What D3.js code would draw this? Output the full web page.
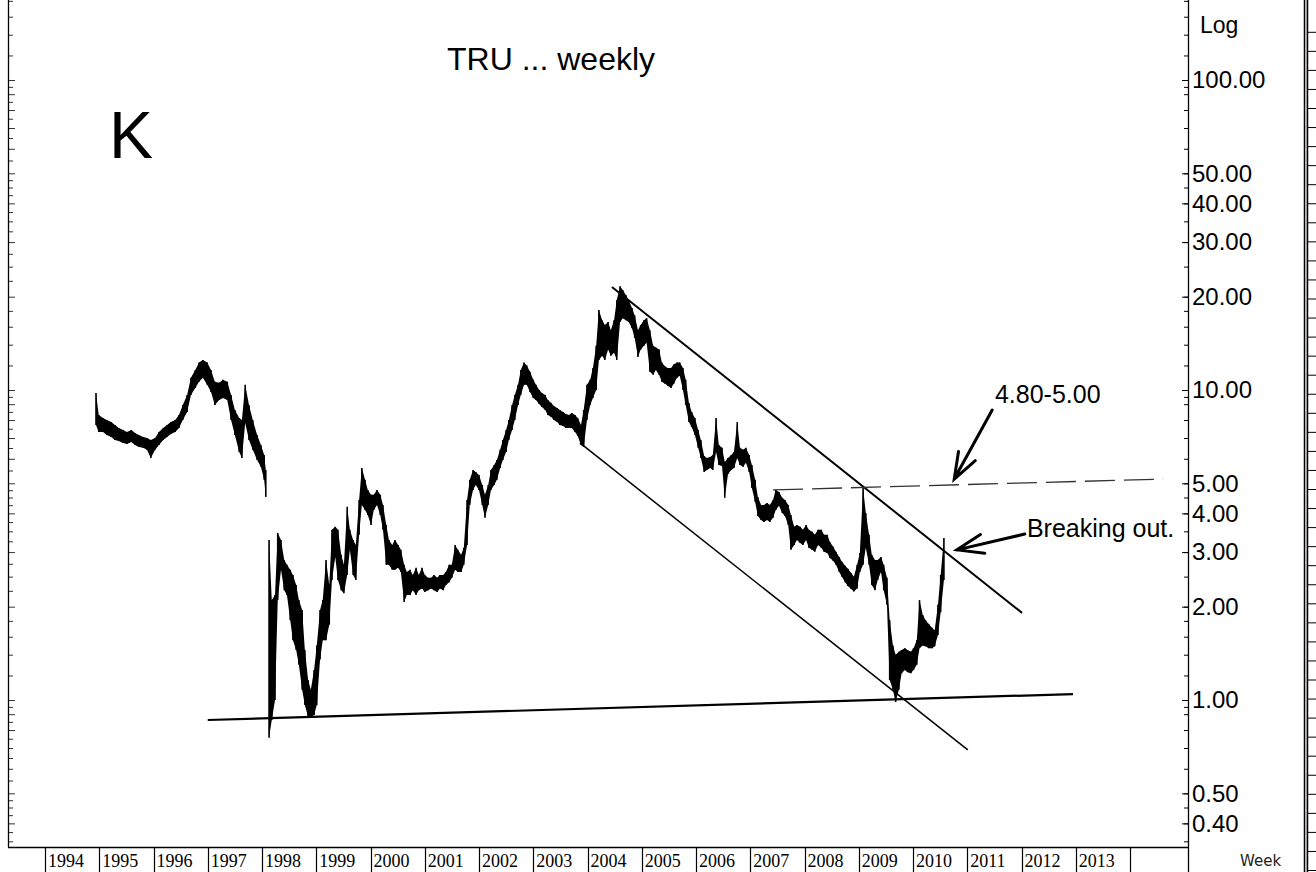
<!DOCTYPE html>
<html>
<head>
<meta charset="utf-8">
<script src="https://cdn.jsdelivr.net/npm/d3@7"></script>
<style>
  body { margin: 0; background: #fff; }
  text { font-family: "Liberation Sans", Arial, sans-serif; fill: #000; }
</style>
</head>
<body>
<div id="chart"></div>
<script>
// Weekly price bars (decimal year, high, low)
// a null row marks the break in the series early in 1998
//=====================================================================
var weekDates = [
    1994.94, 1994.99, 1995.07, 1995.14, 1995.22, 1995.29, 1995.36, 1995.44, 1995.51, 1995.59, 1995.66, 1995.73, 1995.81, 1995.88, 1995.95,
    1996.03, 1996.10, 1996.18, 1996.25, 1996.32, 1996.40, 1996.47, 1996.54, 1996.62, 1996.69, 1996.77, 1996.84, 1996.91, 1996.99,
    1997.06, 1997.13, 1997.21, 1997.28, 1997.36, 1997.43, 1997.50, 1997.58, 1997.63, 1997.69, 1997.76, 1997.83, 1997.91, 1997.98,
    1998.04, 1998.07, 1998.10,
    1998.13, 1998.18, 1998.24, 1998.29, 1998.35, 1998.41, 1998.46, 1998.52, 1998.57, 1998.63, 1998.68, 1998.74, 1998.79, 1998.85, 1998.90, 1998.96,
    1999.01, 1999.07, 1999.12, 1999.18, 1999.24, 1999.29, 1999.35, 1999.40, 1999.46, 1999.51, 1999.57, 1999.62, 1999.68, 1999.73, 1999.79, 1999.84, 1999.90, 1999.95,
    2000.01, 2000.06, 2000.12, 2000.18, 2000.23, 2000.29, 2000.34, 2000.40, 2000.45, 2000.51, 2000.56, 2000.62, 2000.67, 2000.73, 2000.78, 2000.84, 2000.89, 2000.95,
    2001.00, 2001.06, 2001.12, 2001.17, 2001.23, 2001.28, 2001.34, 2001.39, 2001.45, 2001.50, 2001.56, 2001.61, 2001.67, 2001.72, 2001.78, 2001.83, 2001.89, 2001.94,
    2002.00, 2002.06, 2002.11, 2002.17, 2002.22, 2002.28, 2002.33, 2002.39, 2002.44, 2002.50, 2002.55, 2002.61, 2002.66, 2002.72, 2002.77, 2002.83, 2002.88, 2002.94,
    2003.00, 2003.05, 2003.11, 2003.16, 2003.22, 2003.27, 2003.33, 2003.38, 2003.44, 2003.49, 2003.55, 2003.60, 2003.66, 2003.71, 2003.77, 2003.82, 2003.88, 2003.93, 2003.99,
    2004.05, 2004.10, 2004.16, 2004.21, 2004.27, 2004.32, 2004.38, 2004.43, 2004.49, 2004.54, 2004.60, 2004.65, 2004.71, 2004.76, 2004.82, 2004.87, 2004.93, 2004.98,
    2005.04, 2005.09, 2005.15, 2005.21, 2005.26, 2005.32, 2005.37, 2005.43, 2005.48, 2005.54, 2005.59, 2005.65, 2005.70, 2005.76, 2005.81, 2005.87, 2005.92, 2005.98,
    2006.04, 2006.09, 2006.15, 2006.20, 2006.26, 2006.31, 2006.37, 2006.42, 2006.48, 2006.53, 2006.59, 2006.65, 2006.70, 2006.76, 2006.81, 2006.87, 2006.92, 2006.98,
    2007.03, 2007.09, 2007.14, 2007.20, 2007.25, 2007.31, 2007.36, 2007.42, 2007.47, 2007.53, 2007.59, 2007.64, 2007.70, 2007.75, 2007.81, 2007.86, 2007.92, 2007.97,
    2008.03, 2008.08, 2008.14, 2008.19, 2008.25, 2008.31, 2008.36, 2008.42, 2008.47, 2008.53, 2008.58, 2008.64, 2008.69, 2008.75, 2008.80, 2008.86, 2008.91, 2008.97,
    2009.02, 2009.08, 2009.13, 2009.19, 2009.24, 2009.30, 2009.35, 2009.41, 2009.46, 2009.52, 2009.57, 2009.63, 2009.68, 2009.74, 2009.79, 2009.85, 2009.90, 2009.96,
    2010.01, 2010.07, 2010.12, 2010.18, 2010.23, 2010.29, 2010.35, 2010.40, 2010.46, 2010.51, 2010.57
];

var weekHighs = [
    9.78, 8.31, 8.12, 8.00, 7.88, 7.71, 7.54, 7.43, 7.32, 7.43, 7.27, 7.16, 7.05, 7.00, 6.90,
    7.00, 7.32, 7.54, 7.71, 7.88, 8.00, 8.31, 8.95, 9.64, 10.96, 11.6, 12.27, 12.5, 12.27,
    11.6, 10.63, 10.56, 10.8, 10.63, 9.64, 8.62, 8.12, 8.00, 10.4, 8.95, 8.00, 7.16, 6.65,
    6.17, 5.52, null,
    3.28, 2.10, 2.18, 3.46, 3.28, 2.83, 2.73, 2.63, 2.53, 2.35, 2.10, 1.95, 1.45, 1.16, 1.08, 1.25,
    1.50, 1.95, 2.10, 2.83, 2.35, 3.54, 3.62, 3.54, 2.94, 2.73, 4.20, 3.54, 3.28, 3.16, 4.42, 5.60, 5.13, 4.76,
    4.59, 4.59, 4.76, 4.59, 4.26, 3.67, 3.28, 3.16, 3.28, 3.16, 3.05, 2.73, 2.59, 2.63, 2.53, 2.67, 2.53, 2.67,
    2.53, 2.48, 2.48, 2.53, 2.48, 2.53, 2.53, 2.59, 2.73, 2.73, 3.16, 3.05, 2.94, 3.10, 4.42, 5.13, 5.52, 5.44,
    5.32, 4.94, 4.59, 4.94, 5.52, 5.73, 5.95, 6.41, 6.90, 7.43, 8.00, 8.95, 9.64, 10.4, 11.6, 12.27, 12.0, 11.45,
    10.8, 10.4, 10.0, 9.78, 9.64, 9.29, 9.08, 8.88, 8.75, 8.62, 8.50, 8.37, 8.31, 8.43, 8.31, 8.12, 7.71, 8.62, 10.4,
    10.8, 11.77, 13.9, 18.1, 16.8, 16.2, 16.57, 15.6, 16.8, 19.5, 21.6, 21.0, 20.2, 19.5, 18.4, 17.4, 15.6, 16.2,
    16.8, 17.05, 15.6, 13.9, 13.7, 13.5, 12.27, 11.91, 11.77, 11.77, 12.09, 12.27, 12.27, 11.77, 10.8, 9.08, 8.50, 8.12,
    7.43, 6.90, 6.12, 6.03, 6.08, 6.17, 8.12, 6.65, 6.51, 5.86, 6.03, 6.17, 6.31, 7.88, 6.51, 6.41, 6.51, 6.17,
    5.73, 5.13, 4.52, 4.26, 4.26, 4.32, 4.26, 4.42, 4.76, 4.69, 4.49, 4.42, 4.26, 3.95, 3.62, 3.67, 3.62, 3.54,
    3.67, 3.54, 3.49, 3.41, 3.54, 3.54, 3.41, 3.41, 3.23, 3.12, 3.01, 2.89, 2.79, 2.71, 2.65, 2.57, 2.50, 2.73,
    2.98, 4.83, 4.01, 3.41, 2.94, 2.83, 2.83, 2.89, 2.73, 2.48, 1.81, 1.50, 1.40, 1.43, 1.45, 1.47, 1.45, 1.43,
    1.47, 1.56, 2.10, 1.88, 1.81, 1.76, 1.71, 1.68, 2.03, 2.53, 3.33
];

var weekLows = [
    7.71, 7.32, 7.32, 7.16, 7.05, 6.90, 6.85, 6.75, 6.70, 6.80, 6.65, 6.55, 6.51, 6.41, 6.03,
    6.41, 6.65, 6.90, 7.05, 7.21, 7.32, 7.54, 8.00, 8.50, 9.64, 10.15, 10.63, 10.96, 10.4,
    9.86, 8.95, 9.29, 9.43, 9.29, 8.00, 7.16, 6.31, 6.03, 7.83, 6.90, 6.41, 5.95, 5.65,
    5.13, 4.52, null,
    0.755, 0.862, 1.00, 2.10, 2.63, 2.26, 2.18, 1.81, 1.56, 1.45, 1.30, 1.08, 0.963, 0.882, 0.882, 0.895,
    0.963, 1.35, 1.56, 1.56, 1.75, 2.44, 2.89, 2.44, 2.26, 2.21, 2.53, 3.05, 2.53, 2.44, 3.41, 4.26, 4.10, 3.95,
    3.67, 4.10, 4.26, 3.95, 3.54, 2.73, 2.73, 2.63, 2.63, 2.67, 2.59, 2.07, 2.18, 2.18, 2.26, 2.18, 2.26, 2.29,
    2.23, 2.26, 2.29, 2.26, 2.23, 2.29, 2.26, 2.35, 2.40, 2.48, 2.63, 2.59, 2.59, 2.73, 3.16, 4.26, 4.76, 4.94,
    4.76, 4.26, 3.87, 4.26, 4.76, 4.94, 5.13, 5.60, 5.95, 6.31, 6.90, 7.43, 8.00, 8.95, 9.64, 10.4, 10.4, 9.86,
    9.43, 9.29, 9.01, 8.82, 8.62, 8.31, 8.18, 8.00, 7.88, 7.71, 7.65, 7.54, 7.54, 7.54, 7.32, 7.11, 6.65, 6.55, 8.00,
    8.95, 9.43, 10.0, 12.5, 12.9, 12.5, 13.5, 12.9, 13.19, 12.5, 16.57, 17.05, 16.8, 16.57, 15.83, 14.72, 12.78, 13.5,
    13.9, 14.21, 11.45, 11.2, 11.6, 11.2, 10.63, 10.48, 10.32, 10.15, 10.48, 10.96, 11.12, 10.0, 8.95, 7.88, 7.60, 7.16,
    6.51, 6.03, 5.44, 5.52, 5.60, 5.52, 6.31, 5.73, 5.69, 4.49, 5.36, 5.52, 5.60, 6.03, 5.73, 5.65, 5.82, 5.44,
    4.83, 4.36, 3.92, 3.81, 3.75, 3.81, 3.75, 3.87, 4.10, 4.23, 4.01, 3.92, 3.67, 3.05, 3.16, 3.28, 3.21, 3.16,
    3.28, 3.10, 3.05, 3.01, 3.16, 3.10, 3.01, 2.98, 2.87, 2.81, 2.73, 2.59, 2.50, 2.40, 2.33, 2.28, 2.24, 2.29,
    2.59, 2.73, 3.10, 2.73, 2.35, 2.26, 2.44, 2.59, 2.26, 2.03, 1.16, 1.08, 0.985, 1.08, 1.22, 1.25, 1.23, 1.22,
    1.25, 1.30, 1.47, 1.50, 1.49, 1.47, 1.47, 1.49, 1.62, 1.92, 2.44
];

// Axis labels
var yearLabels = [1994, 1995, 1996, 1997, 1998, 1999, 2000, 2001, 2002, 2003,
    2004, 2005, 2006, 2007, 2008, 2009, 2010, 2011, 2012, 2013];
var priceLabels = [100, 50, 40, 30, 20, 10, 5, 4, 3, 2, 1, 0.5, 0.4];
var decades = [0.1, 1, 10, 100];
var leftMultipliers = [1, 1.2, 1.4, 1.6, 1.8, 2, 2.25, 2.5, 2.75, 3, 3.25, 3.5, 3.75,
    4, 4.25, 4.5, 4.75, 5, 5.5, 6, 6.5, 7, 7.5, 8, 8.5, 9, 9.5];
var rightMultipliers = [1, 1.2, 1.4, 1.6, 1.8, 2, 2.5, 3, 3.5, 4, 4.5, 5, 6, 7, 8, 9, 9.5];

// Hand drawn trend lines and notes (decimal year, price)
var supportLine = [[1997.00, 0.862], [2012.95, 1.045]];
var channelTop = [[2004.45, 21.5], [2012.01, 1.91]];
var channelBottom = [[2003.86, 6.75], [2011.01, 0.69]];
var resistanceLine = [[2007.42, 4.76], [2014.61, 5.16]];
var resistArrow = [[2011.46, 8.62], [2010.76, 5.16]];
var breakArrow = [[2012.06, 3.43], [2010.81, 3.05]];
var notes = [
    { text: "4.80-5.00", date: 2011.51, price: 9.06 },
    { text: "Breaking out.", date: 2012.10, price: 3.36 }
];

// Set up the picture
//=====================================================================
var svgWidth = 1316;
var svgHeight = 872;
var plot = { left: 8, right: 1188, top: 0, bottom: 847 };

var svg = d3.select("#chart")
    .append("svg")
    .attr("width", svgWidth)
    .attr("height", svgHeight)
    .style("background", "#fff");

var xScale = d3.scaleLinear().domain([1994, 2014]).range([45, 1130]);
var yScale = d3.scaleLog().domain([1, 100]).range([700, 80]);

svg.append("clipPath").attr("id", "plotClip")
    .append("rect")
    .attr("x", plot.left).attr("y", plot.top)
    .attr("width", plot.right - plot.left).attr("height", plot.bottom - plot.top);

var chartGroup = svg.append("g").attr("clip-path", "url(#plotClip)");

// Price bars: filled high-low band, then each bar on top
//=====================================================================
var bars = weekDates.map(function (d, i) {
    return { date: d, high: weekHighs[i], low: weekLows[i] };
});

var band = d3.area()
    .defined(d => d.high !== null)
    .x(d => xScale(d.date))
    .y0(d => yScale(d.low))
    .y1(d => yScale(d.high));

chartGroup.append("path")
    .datum(bars)
    .attr("d", band)
    .attr("fill", "#000");

chartGroup.selectAll("line.bar")
    .data(bars.filter(d => d.high !== null))
    .enter()
    .append("line")
    .attr("class", "bar")
    .attr("x1", d => xScale(d.date))
    .attr("x2", d => xScale(d.date))
    .attr("y1", d => yScale(d.high))
    .attr("y2", d => yScale(d.low))
    .attr("stroke", "#000")
    .attr("stroke-width", 1.6);

// Trend lines
//=====================================================================
var trend = d3.line().x(d => xScale(d[0])).y(d => yScale(d[1]));

chartGroup.append("path").attr("d", trend(supportLine))
    .attr("stroke", "#000").attr("stroke-width", 2.2).attr("fill", "none");
chartGroup.append("path").attr("d", trend(channelTop))
    .attr("stroke", "#000").attr("stroke-width", 2).attr("fill", "none");
chartGroup.append("path").attr("d", trend(channelBottom))
    .attr("stroke", "#000").attr("stroke-width", 1.5).attr("fill", "none");
chartGroup.append("path").attr("d", trend(resistanceLine))
    .attr("stroke", "#333").attr("stroke-width", 1.3)
    .attr("stroke-dasharray", "30,9").attr("fill", "none");

// Arrows with two barbs at the tip
function drawArrow(points) {
    var tail = [xScale(points[0][0]), yScale(points[0][1])];
    var tip = [xScale(points[1][0]), yScale(points[1][1])];
    var back = Math.atan2(tail[1] - tip[1], tail[0] - tip[0]);
    var barb = 28;
    var spread = 20 * Math.PI / 180;
    var path = d3.path();
    path.moveTo(tail[0], tail[1]);
    path.lineTo(tip[0], tip[1]);
    path.moveTo(tip[0] + barb * Math.cos(back - spread), tip[1] + barb * Math.sin(back - spread));
    path.lineTo(tip[0], tip[1]);
    path.lineTo(tip[0] + barb * Math.cos(back + spread), tip[1] + barb * Math.sin(back + spread));
    chartGroup.append("path")
        .attr("d", path.toString())
        .attr("stroke", "#000")
        .attr("stroke-width", 3)
        .attr("stroke-linecap", "round")
        .attr("fill", "none");
}
drawArrow(resistArrow);
drawArrow(breakArrow);

chartGroup.selectAll("text.note")
    .data(notes)
    .enter()
    .append("text")
    .attr("class", "note")
    .attr("x", d => xScale(d.date))
    .attr("y", d => yScale(d.price))
    .style("font-size", "25px")
    .text(d => d.text);

// Titles
svg.append("text")
    .attr("x", 447).attr("y", 70)
    .style("font-size", "32px")
    .text("TRU ... weekly");

svg.append("text")
    .attr("x", 109).attr("y", 158)
    .style("font-size", "66px")
    .text("K");

// Axes
//=====================================================================
function logTicks(multipliers) {
    var ticks = [];
    decades.forEach(function (d) {
        multipliers.forEach(function (m) { ticks.push(d * m); });
    });
    return ticks.filter(v => yScale(v) >= plot.top && yScale(v) <= plot.bottom);
}

// Frame lines
svg.append("line").attr("x1", plot.left + 0.5).attr("x2", plot.left + 0.5)
    .attr("y1", 0).attr("y2", plot.bottom).attr("stroke", "#000").attr("stroke-width", 1.3);
svg.append("line").attr("x1", plot.left).attr("x2", plot.right)
    .attr("y1", plot.bottom + 0.5).attr("y2", plot.bottom + 0.5).attr("stroke", "#000").attr("stroke-width", 1.3);
svg.append("line").attr("x1", plot.right + 0.5).attr("x2", plot.right + 0.5)
    .attr("y1", 0).attr("y2", svgHeight).attr("stroke", "#000").attr("stroke-width", 1.3);

// Left ticks, no labels
var leftAxis = d3.axisRight(yScale)
    .tickValues(logTicks(leftMultipliers))
    .tickSize(4)
    .tickFormat("");
var leftGroup = svg.append("g")
    .attr("transform", `translate(${plot.left + 1}, 0)`)
    .call(leftAxis);
leftGroup.select(".domain").remove();
leftGroup.selectAll(".tick line")
    .attr("stroke", "#333")
    .attr("x2", d => Number.isInteger(Math.round(d * 1000) / 1000 / Math.pow(10, Math.floor(Math.log10(d) + 1e-9))) ? 6 : 4);

// Right price axis: minor ticks then labelled ticks
var rightMinor = d3.axisRight(yScale)
    .tickValues(logTicks(rightMultipliers))
    .tickSize(-4)
    .tickFormat("");
var rightMinorGroup = svg.append("g")
    .attr("transform", `translate(${plot.right}, 0)`)
    .call(rightMinor);
rightMinorGroup.select(".domain").remove();

var rightAxis = d3.axisRight(yScale)
    .tickValues(priceLabels)
    .tickSize(-6)
    .tickPadding(4)
    .tickFormat(d3.format(".2f"));
var rightGroup = svg.append("g")
    .attr("transform", `translate(${plot.right}, 0)`)
    .call(rightAxis);
rightGroup.select(".domain").remove();
rightGroup.selectAll("text")
    .style("font-family", "'Liberation Sans', Arial, sans-serif")
    .style("font-size", "24px");

svg.append("text")
    .attr("x", 1200).attr("y", 33)
    .style("font-size", "23px")
    .text("Log");

// Year strip under the chart
var yearGroup = svg.append("g");
yearGroup.selectAll("line")
    .data(yearLabels.concat([2014]))
    .enter()
    .append("line")
    .attr("x1", d => Math.round(xScale(d)) + 0.5)
    .attr("x2", d => Math.round(xScale(d)) + 0.5)
    .attr("y1", plot.bottom)
    .attr("y2", svgHeight)
    .attr("stroke", "#000")
    .attr("stroke-width", 1.2);
yearGroup.selectAll("text")
    .data(yearLabels)
    .enter()
    .append("text")
    .attr("x", d => xScale(d) + 3)
    .attr("y", 867)
    .style("font-family", "'Liberation Serif', 'Times New Roman', serif")
    .style("font-size", "18px")
    .text(d => d);

svg.append("text")
    .attr("x", 1240).attr("y", 866)
    .style("font-family", "'DejaVu Sans', sans-serif")
    .style("font-size", "15px")
    .style("fill", "#222")
    .text("Week");

// Edge of the neighbouring panel on the far right
//=====================================================================
var stripScale = d3.scaleLinear().domain([0, 45]).range([870, 12.75]);
svg.append("line").attr("x1", 1304.5).attr("x2", 1304.5).attr("y1", 0).attr("y2", svgHeight)
    .attr("stroke", "#000").attr("stroke-width", 1.5);
svg.append("line").attr("x1", 1306).attr("x2", 1306).attr("y1", 0).attr("y2", svgHeight)
    .attr("stroke", "#b9a9ad").attr("stroke-width", 1.2);
svg.append("line").attr("x1", 1307.5).attr("x2", 1307.5).attr("y1", 0).attr("y2", svgHeight)
    .attr("stroke", "#000").attr("stroke-width", 1.5);
var stripAxis = d3.axisRight(stripScale)
    .tickValues(d3.range(0, 45))
    .tickSize(8)
    .tickFormat("");
var stripGroup = svg.append("g")
    .attr("transform", "translate(1308, 0)")
    .call(stripAxis);
stripGroup.select(".domain").remove();
</script>
</body>
</html>
